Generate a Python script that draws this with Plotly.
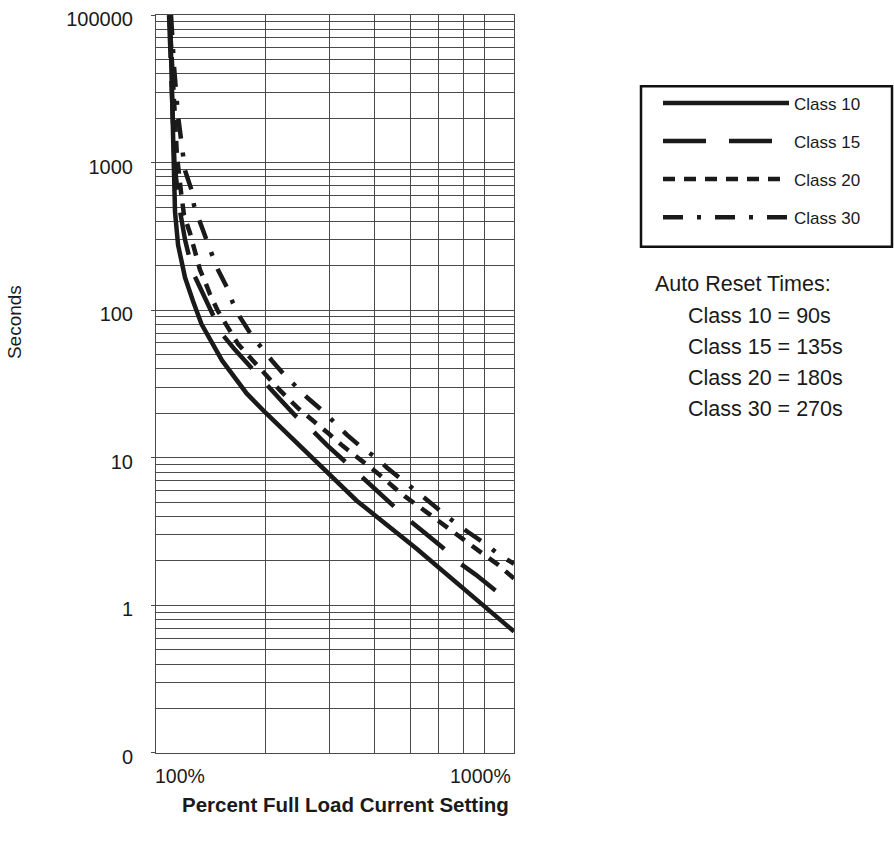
import plotly.graph_objects as go

# ---- data ----
class10_x = [109.3, 110.7, 111.6, 112.8, 115.0, 120.2, 126.4, 133.4, 151.9, 177.6, 200.8, 233.7, 270.3, 314.2, 356.6, 521.4, 966]
class10_y = [10000, 2413, 1300, 464, 277, 166.5, 115.5, 80.5, 45.7, 27.3, 20.05, 14.0, 9.74, 6.80, 5.12, 2.42, 0.665]

class15_x = [108.6, 110.0, 111.0, 112.4, 115.7, 120.2, 126.4, 133.0, 142.6, 151.9, 165.0, 181.4, 199.5, 219.4, 241.2,
             268.6, 295.4, 326.9, 364.1, 400.4, 440.4, 493.5, 549.5, 612.1, 677.3, 759.1, 845.6, 966]
class15_y = [10000, 4477, 2413, 1000, 514, 300, 180, 138.3, 96.9, 69.0, 53.9, 41.4, 31.9, 24.9, 19.4,
             15.4, 12.2, 9.69, 7.57, 6.10, 4.99, 3.84, 3.09, 2.49, 1.97, 1.61, 1.30, 1.015]

class20_x = [108.9, 110.7, 112.1, 114.2, 117.2, 119.4, 124.0, 132.1, 136.4, 140.8, 148.1, 159.8, 168.1, 184.9, 199.5,
             219.4, 245.9, 270.3, 297.3, 326.9, 368.7, 405.5, 448.8, 484.2, 532.5, 593.0, 656.2, 717.1, 793.6, 867.3, 966]
class20_y = [10000, 4477, 2413, 1114, 629, 441, 334, 188, 156.5, 128.1, 98.5, 72.3, 59.1, 45.5, 37.2,
             28.6, 21.7, 18.0, 14.7, 12.0, 9.55, 7.93, 6.39, 5.47, 4.62, 3.78, 3.14, 2.65, 2.23, 1.91, 1.52]

class30_x = [110.0, 112.1, 115.0, 118.7, 120.2, 125.6, 127.2, 132.1, 139.0, 142.6, 148.1, 157.8, 162.9, 170.3, 183.7,
             194.5, 208.5, 226.4, 244.3, 261.9, 288.0, 310.8, 335.3, 366.4, 400.4, 432.1, 478.1, 512.6, 560.1, 623.7,
             673.0, 721.6, 814.0, 872.8, 966]
class30_y = [10000, 4477, 2067, 1114, 884, 639, 514, 396, 291, 238, 188, 138.3, 111.5, 89.7, 66.9,
             55.6, 45.5, 36.1, 29.95, 25.3, 20.7, 17.2, 14.3, 11.85, 10.15, 8.57, 7.01, 6.00, 5.14, 4.14,
             3.55, 3.14, 2.57, 2.23, 1.91]

series_names = ["Class 10", "Class 15", "Class 20", "Class 30"]
series_dash = ["solid", "43px,23px", "12px,9px", "20px,14px,4px,14px"]

y_tickvals = [0.1, 1, 10, 100, 1000, 10000]
y_ticktext = ["0", "1", "10", "100", "1000", "100000"]
x_gridvals = [200, 300, 400, 500, 600, 700, 800]
x_end_labels = ["100%", "1000%"]

reset_classes = ["Class 10", "Class 15", "Class 20", "Class 30"]
reset_times = ["90s", "135s", "180s", "270s"]

FONT = "Liberation Sans, Arial, Helvetica, sans-serif"
INK = "#1a1a1a"
GRID = "#4a4a4a"

fig = go.Figure()
xs = [class10_x, class15_x, class20_x, class30_x]
ys = [class10_y, class15_y, class20_y, class30_y]
for name, dash, x, y in zip(series_names, series_dash, xs, ys):
    fig.add_trace(go.Scatter(
        x=x, y=y, mode="lines", name=name, legendgroup=name,
        line=dict(color=INK, width=4.5, dash=dash),
    ))

minor_y = [m * 10 ** e for e in range(-1, 4) for m in range(2, 10)]

fig.update_xaxes(
    type="log", range=[2, 2.985], tickvals=x_gridvals, showticklabels=False, ticks="",
    showgrid=True, gridcolor=GRID, gridwidth=1,
    showline=True, mirror=True, linecolor=GRID, linewidth=1, zeroline=False,
)
fig.update_yaxes(
    type="log", range=[-1.0005, 4.0005], tickvals=y_tickvals, ticktext=y_ticktext,
    ticks="outside", ticklen=4, tickcolor=GRID, tickwidth=1,
    tickfont=dict(family=FONT, size=20, color=INK),
    showgrid=True, gridcolor=GRID, gridwidth=1,
    minor=dict(tickvals=minor_y, showgrid=True, gridcolor=GRID, gridwidth=1, ticks=""),
    showline=True, mirror=True, linecolor=GRID, linewidth=1, zeroline=False,
    ticklabelstandoff=14, ticklabelshift=4,
)

annotations = [
    dict(text=x_end_labels[0], x=-0.008, y=-0.031, xref="paper", yref="paper",
         xanchor="left", yanchor="middle", showarrow=False, font=dict(family=FONT, size=19.5, color=INK)),
    dict(text=x_end_labels[1], x=0.997, y=-0.031, xref="paper", yref="paper",
         xanchor="right", yanchor="middle", showarrow=False, font=dict(family=FONT, size=19.5, color=INK)),
    dict(text="<b>Percent Full Load Current Setting</b>", x=0.5307, y=-0.0698, xref="paper", yref="paper",
         xanchor="center", yanchor="middle", showarrow=False, font=dict(family=FONT, size=20.5, color=INK)),
    dict(text="Seconds", x=-0.3966, y=0.5839, xref="paper", yref="paper", textangle=-90,
         xanchor="center", yanchor="middle", showarrow=False, font=dict(family=FONT, size=19, color=INK)),
    dict(text="Auto Reset Times:", x=1.3883, y=0.6349, xref="paper", yref="paper",
         xanchor="left", yanchor="middle", showarrow=False, font=dict(family=FONT, size=21.5, color=INK)),
]
reset_y = [0.5919, 0.5503, 0.5087, 0.4658]
for cls, t, yy in zip(reset_classes, reset_times, reset_y):
    annotations.append(dict(text=f"{cls} = {t}", x=1.4804, y=yy, xref="paper", yref="paper",
                            xanchor="left", yanchor="middle", showarrow=False,
                            font=dict(family=FONT, size=21.5, color=INK)))

# legend frame (box around the legend entries)
legend_box = dict(type="rect", xref="paper", yref="paper",
                  x0=(641 - 156) / 358, x1=(892 - 156) / 358,
                  y0=(753 - 242) / 745, y1=(753 - 80) / 745,
                  line=dict(color="#111", width=2.5), fillcolor="rgba(0,0,0,0)", layer="above")

fig.update_layout(
    width=894, height=845,
    margin=dict(l=156, r=380, t=8, b=92),
    paper_bgcolor="white", plot_bgcolor="white",
    font=dict(family=FONT, color=INK),
    showlegend=True,
    legend=dict(x=(658 - 156) / 358, y=(753 - 79) / 745, xanchor="left", yanchor="top",
                borderwidth=0, bgcolor="rgba(0,0,0,0)",
                font=dict(family=FONT, size=17, color=INK),
                itemwidth=126, tracegroupgap=13),
    annotations=annotations,
    shapes=[legend_box],
)

fig.write_html("out.html", config={"displayModeBar": False},
               post_script="document.body.style.margin='0px';")
